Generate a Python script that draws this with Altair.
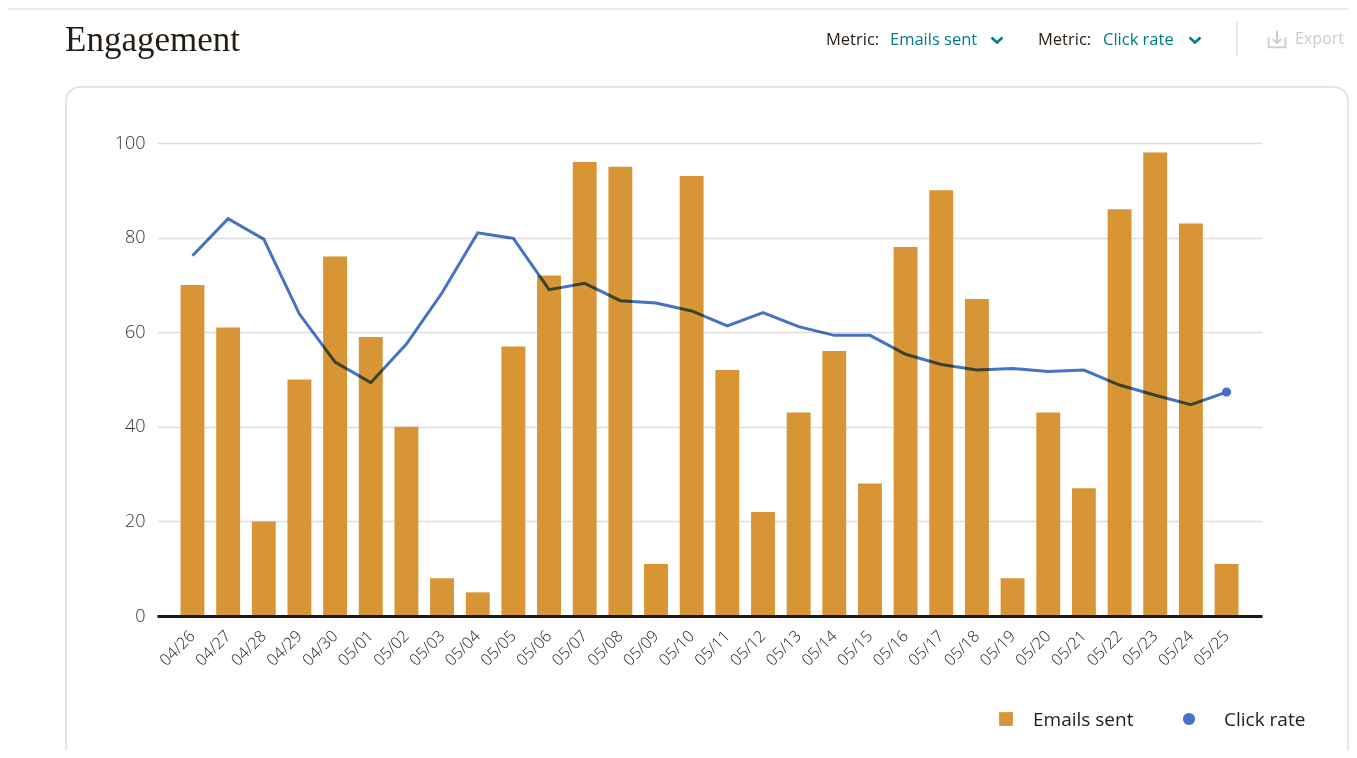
import altair as alt
import pandas as pd

# ---- data ----
dates = ["04/26", "04/27", "04/28", "04/29", "04/30", "05/01", "05/02", "05/03",
         "05/04", "05/05", "05/06", "05/07", "05/08", "05/09", "05/10", "05/11",
         "05/12", "05/13", "05/14", "05/15", "05/16", "05/17", "05/18", "05/19",
         "05/20", "05/21", "05/22", "05/23", "05/24", "05/25"]
emails_sent = [70, 61, 20, 50, 76, 59, 40, 8, 5, 57, 72, 96, 95, 11, 93, 52,
               22, 43, 56, 28, 78, 90, 67, 8, 43, 27, 86, 98, 83, 11]
click_rate_pct = [45.7, 50.4, 47.8, 38.3, 32.2, 29.6, 34.5, 41.0, 48.6, 47.9,
                  41.4, 42.2, 40.0, 39.7, 38.7, 36.8, 38.5, 36.7, 35.6, 35.6,
                  33.2, 31.9, 31.2, 31.4, 31.0, 31.2, 29.3, 28.0, 26.8, 28.4]
left_ticks = [0, 20, 40, 60, 80, 100]
right_ticks = [0, 0.1, 0.2, 0.3, 0.4, 0.5, 0.6]
series_names = ["Emails sent", "Click rate"]

W, H = 1105, 473
ORANGE = "#D89536"
BLUE = "#4472C4"
TEAL = "#007C89"
DARK = "#241C15"
FONT = "Open Sans"

df = pd.DataFrame({"date": dates, "emails": emails_sent,
                   "rate": [v / 100 for v in click_rate_pct]})
last = df.tail(1)
one = pd.DataFrame({"k": [0]})

x_axis = alt.Axis(title=None, labelAngle=-45, labelAlign="right", labelBaseline="middle",
                  labelPadding=17, ticks=False, domainColor="#1a1a1a", domainWidth=3,
                  labelFontSize=16, labelColor="#222222", labelFont=FONT,
                  labelFontWeight=300, zindex=1)
x_enc = alt.X("date:O", sort=dates, axis=x_axis,
              scale=alt.Scale(paddingInner=0.33, paddingOuter=0.66))

bars = alt.Chart(df).mark_bar(color=ORANGE).encode(
    x=x_enc,
    y=alt.Y("emails:Q", scale=alt.Scale(domain=[0, 100], nice=False),
            axis=alt.Axis(title=None, values=left_ticks, grid=True, gridColor="#dddddd",
                          gridWidth=1.5, domain=False, ticks=False, labelPadding=12,
                          labelFontSize=18, labelColor="#333333", labelFont=FONT,
                          labelFontWeight=300)),
)

line = alt.Chart(df).mark_line(color=BLUE, strokeWidth=3, blend="multiply").encode(
    x=alt.X("date:O", sort=dates),
    y=alt.Y("rate:Q", scale=alt.Scale(domain=[0, 0.6], nice=False),
            axis=alt.Axis(title=None, orient="right", values=right_ticks, format=".0%",
                          grid=False, domain=False, ticks=False, labelPadding=31,
                          labelFontSize=18, labelColor="#333333", labelFont=FONT,
                          labelFontWeight=300)),
)
pt = alt.Chart(last).mark_point(filled=True, color=BLUE, size=85, opacity=1).encode(
    x=alt.X("date:O", sort=dates),
    y=alt.Y("rate:Q", axis=None),
)
rate_layer = alt.layer(line, pt)


def txt(text, x, y, size=16.5, color=DARK, font=FONT, align="left", baseline="middle", weight="normal"):
    return alt.Chart(one).mark_text(text=text, fontSize=size, color=color, font=font,
                                    align=align, baseline=baseline, fontWeight=weight).encode(
        x=alt.value(x), y=alt.value(y))


# decorations (view coordinates: plot origin at page (157,143))
card = alt.Chart(one).mark_rect(fillOpacity=0, stroke="#dedede", strokeWidth=1.5,
                                cornerRadius=14).encode(
    x=alt.value(-91), x2=alt.value(1191), y=alt.value(-56), y2=alt.value(640))
topline = alt.Chart(one).mark_rule(color="#e3e3e3", strokeWidth=1.5).encode(
    x=alt.value(-157), x2=alt.value(1195), y=alt.value(-134))
sep = alt.Chart(one).mark_rule(color="#e0e0e0", strokeWidth=1.5).encode(
    x=alt.value(1080), y=alt.value(-121), y2=alt.value(-87))

title = txt("Engagement", -92, -92, size=35, font="Liberation Serif", baseline="alphabetic")
m1 = txt("Metric:", 669, -103, weight=500)
m1v = txt("Emails sent", 733, -103, color=TEAL)
m2 = txt("Metric:", 881, -103, weight=500)
m2v = txt("Click rate", 946, -103, color=TEAL)
chev_shape = "M-1,-0.45L0,0.45L1,-0.45"
chev1 = alt.Chart(one).mark_point(shape=chev_shape, filled=False, strokeWidth=2.5, size=120,
                                  color=TEAL, opacity=1).encode(x=alt.value(840), y=alt.value(-103))
chev2 = alt.Chart(one).mark_point(shape=chev_shape, filled=False, strokeWidth=2.5, size=120,
                                  color=TEAL, opacity=1).encode(x=alt.value(1038), y=alt.value(-103))
export_icon = alt.Chart(one).mark_point(
    shape="M-1,-0.2L-1,1L1,1L1,-0.2M0,-1L0,0.5M-0.5,0L0,0.5L0.5,0",
    filled=False, strokeWidth=2, size=280, color="#d0d0d0", opacity=1).encode(
    x=alt.value(1120), y=alt.value(-104))
export_txt = txt("Export", 1138, -104, color="#cccccc", size=16)

leg_sq = alt.Chart(one).mark_square(size=190, color=ORANGE, opacity=1).encode(
    x=alt.value(849), y=alt.value(576))
leg_t1 = txt(series_names[0], 876, 577, size=19, color=DARK)
leg_ci = alt.Chart(one).mark_circle(size=150, color=BLUE, opacity=1).encode(
    x=alt.value(1032), y=alt.value(576))
leg_t2 = txt(series_names[1], 1067, 577, size=19, color=DARK)

chart = alt.layer(
    card, topline, sep, title, m1, m1v, m2, m2v, chev1, chev2, export_icon, export_txt,
    bars, rate_layer,
    leg_sq, leg_t1, leg_ci, leg_t2,
).resolve_scale(y="independent").properties(
    width=W, height=H,
    padding={"left": 149, "top": 135, "right": 87, "bottom": 134},
    autosize=alt.AutoSizeParams(type="none"),
    background="white",
).configure_view(strokeOpacity=0)

chart.save("out.html", embed_options={"renderer": "svg", "actions": False})
